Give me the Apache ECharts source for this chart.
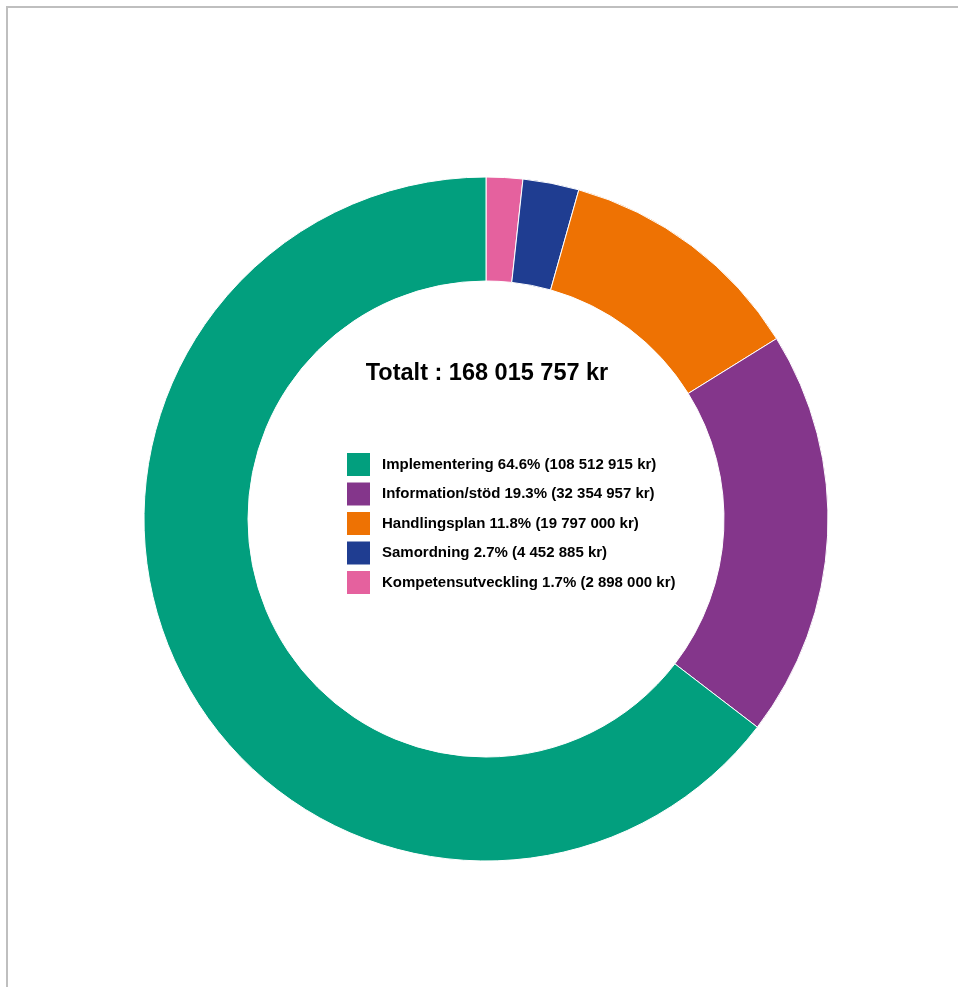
<!DOCTYPE html>
<html>
<head>
<meta charset="utf-8">
<title>Totalt</title>
<script src="https://cdn.jsdelivr.net/npm/echarts@6/dist/echarts.min.js"></script>
<style>
  html, body { margin: 0; padding: 0; background: #ffffff; }
  #chart { width: 958px; height: 987px; }
</style>
</head>
<body>
<div id="chart"></div>
<script>
// Budget per area (kr), in clockwise order starting at 12 o'clock
const categories = ['Kompetensutveckling', 'Samordning', 'Handlingsplan', 'Information/stöd', 'Implementering'];
const amounts = [2898000, 4452885, 19797000, 32354957, 108512915];
const colors = ['#E5619E', '#1F3D91', '#EE7203', '#84368B', '#029F7E'];
// Legend lists the largest area first
const legendOrder = ['Implementering', 'Information/stöd', 'Handlingsplan', 'Samordning', 'Kompetensutveckling'];

const FONT = '"Liberation Sans", Arial, sans-serif';
const total = amounts.reduce((a, b) => a + b, 0);

function kr(n) {
  return String(n).replace(/\B(?=(\d{3})+(?!\d))/g, ' ') + ' kr';
}

const pieData = categories.map((name, i) => ({
  name: name,
  value: amounts[i],
  itemStyle: { color: colors[i] }
}));

const chart = echarts.init(document.getElementById('chart'), null, { renderer: 'canvas' });

chart.setOption({
  animation: false,
  backgroundColor: '#ffffff',
  graphic: [
    {
      type: 'rect',
      silent: true,
      shape: { x: 7, y: 7, width: 2000, height: 2000 },
      style: { fill: 'none', stroke: '#bfbfbf', lineWidth: 2 }
    },
    {
      type: 'text',
      silent: true,
      style: {
        text: 'Totalt : ' + kr(total),
        x: 487,
        y: 374,
        textAlign: 'center',
        textVerticalAlign: 'middle',
        font: 'bold 23.5px ' + FONT,
        fill: '#000000'
      }
    }
  ],
  legend: {
    orient: 'vertical',
    left: 340,
    top: 446,
    icon: 'rect',
    itemWidth: 25,
    itemHeight: 25,
    itemGap: 2.5,
    selectedMode: false,
    data: legendOrder,
    textStyle: {
      fontFamily: FONT,
      fontSize: 15,
      fontWeight: 'bold',
      color: '#000000',
      padding: [0, 0, 0, 6]
    },
    formatter: function (name) {
      const v = amounts[categories.indexOf(name)];
      return name + ' ' + (v / total * 100).toFixed(1) + '% (' + kr(v) + ')';
    }
  },
  series: [
    {
      type: 'pie',
      center: [486, 519],
      radius: [238, 342],
      startAngle: 90,
      clockwise: true,
      avoidLabelOverlap: false,
      label: { show: false },
      labelLine: { show: false },
      emphasis: { disabled: true },
      itemStyle: { borderColor: '#ffffff', borderWidth: 1 },
      data: pieData
    }
  ]
});
</script>
</body>
</html>
